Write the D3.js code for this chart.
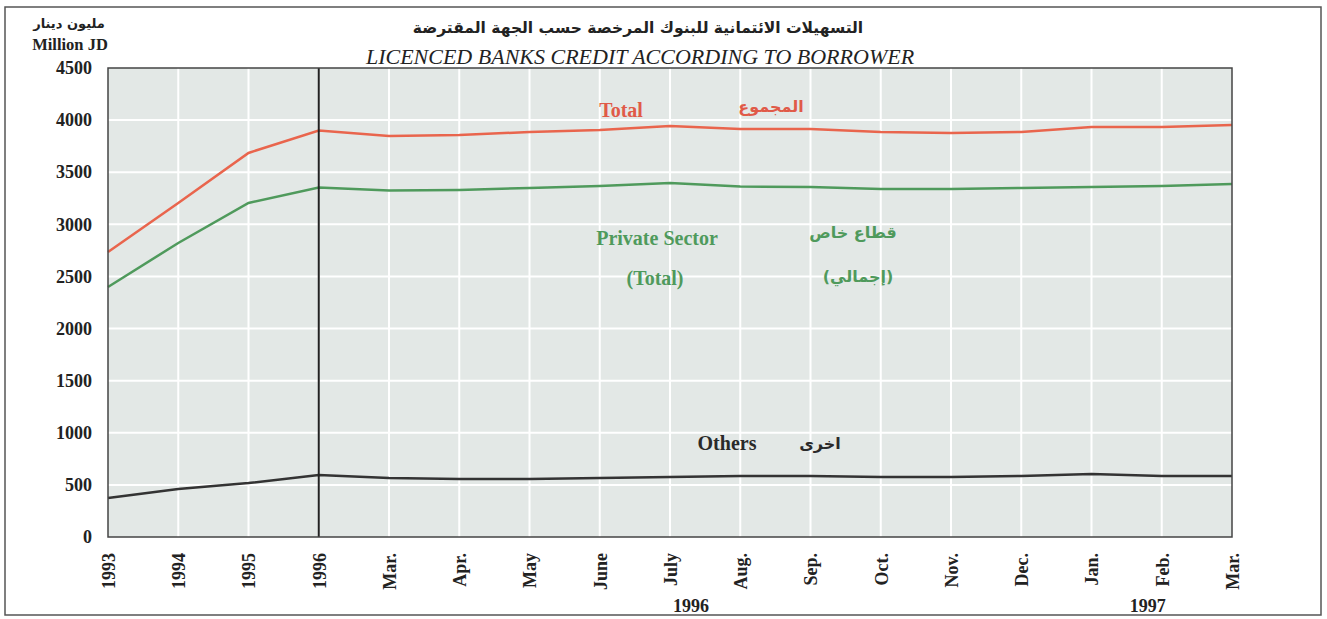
<!DOCTYPE html>
<html>
<head>
<meta charset="utf-8">
<script src="https://cdn.jsdelivr.net/npm/d3@7"></script>
<style>
  html, body { margin: 0; padding: 0; background: #ffffff; }
  svg { display: block; }
</style>
</head>
<body>
<svg id="chart" width="1327" height="619"></svg>
<script>
const categories = ["1993","1994","1995","1996","Mar.","Apr.","May","June","July","Aug.","Sep.","Oct.","Nov.","Dec.","Jan.","Feb.","Mar."];
const totalValues   = [2735,3205,3685,3900,3848,3857,3886,3905,3944,3915,3915,3886,3876,3886,3934,3934,3953];
const privateValues = [2399,2821,3205,3353,3325,3330,3349,3368,3397,3363,3358,3339,3339,3349,3358,3368,3387];
const othersValues  = [374,461,518,595,566,557,557,566,576,585,585,576,576,585,604,585,585];
const yTicks = [0,500,1000,1500,2000,2500,3000,3500,4000,4500];
const yearLabels = [{text:"1996", at:8.3}, {text:"1997", at:14.8}];
const dividerCategory = 3;

const svg = d3.select("#chart");
const M = {left:108, right:1232, top:68, bottom:537};
const serif = "'Liberation Serif','Times New Roman',serif";
const arabic = "'DejaVu Sans',sans-serif";

// outer frame
svg.append("rect").attr("x",5).attr("y",7).attr("width",1316).attr("height",608)
  .attr("fill","none").attr("stroke","#555").attr("stroke-width",1.5);

const x = d3.scaleLinear().domain([0, categories.length-1]).range([M.left, M.right]);
const y = d3.scaleLinear().domain([0, 4500]).range([M.bottom, M.top]);

// plot background
svg.append("rect").attr("x",M.left).attr("y",M.top)
  .attr("width",M.right-M.left).attr("height",M.bottom-M.top)
  .attr("fill","#e3e8e6");

// grid
const g = svg.append("g");
g.selectAll("line.h").data(yTicks.slice(1,-1)).join("line")
  .attr("x1",M.left).attr("x2",M.right).attr("y1",d=>y(d)).attr("y2",d=>y(d))
  .attr("stroke","#ffffff").attr("stroke-width",2);
g.selectAll("line.v").data(d3.range(1,categories.length-1)).join("line")
  .attr("x1",d=>x(d)).attr("x2",d=>x(d)).attr("y1",M.top).attr("y2",M.bottom)
  .attr("stroke","#ffffff").attr("stroke-width",2);

// y axis labels
const yAxis = d3.axisLeft(y).tickValues(yTicks).tickFormat(d3.format("d")).tickSize(0).tickPadding(16);
const ya = svg.append("g").attr("transform",`translate(${M.left},0)`).call(yAxis);
ya.select(".domain").remove();
ya.selectAll("text").attr("font-family",serif).attr("font-weight","bold")
  .attr("font-size",18).attr("fill","#222");

// x axis labels
const xAxis = d3.axisBottom(x).tickValues(d3.range(categories.length))
  .tickFormat(i=>categories[i]).tickSize(0);
const xa = svg.append("g").attr("transform",`translate(0,${M.bottom})`).call(xAxis);
xa.select(".domain").remove();
xa.selectAll("text").attr("font-family",serif).attr("font-weight","bold")
  .attr("font-size",18).attr("fill","#222")
  .attr("transform","rotate(-90)").attr("text-anchor","end")
  .attr("x",-16).attr("y",0).attr("dy","0.35em");

// year labels
svg.selectAll("text.year").data(yearLabels).join("text")
  .attr("x",d=>x(d.at)).attr("y",612).attr("text-anchor","middle")
  .attr("font-family",serif).attr("font-weight","bold").attr("font-size",18).attr("fill","#222")
  .text(d=>d.text);

// lines
const line = d3.line().x((d,i)=>x(i)).y(d=>y(d));
svg.append("path").datum(othersValues).attr("d",line)
  .attr("fill","none").attr("stroke","#333").attr("stroke-width",2.5);
svg.append("path").datum(privateValues).attr("d",line)
  .attr("fill","none").attr("stroke","#4f9a5c").attr("stroke-width",2.5);
svg.append("path").datum(totalValues).attr("d",line)
  .attr("fill","none").attr("stroke","#e9654d").attr("stroke-width",2.5);

// divider
svg.append("line").attr("x1",x(dividerCategory)).attr("x2",x(dividerCategory))
  .attr("y1",M.top).attr("y2",M.bottom).attr("stroke","#222").attr("stroke-width",2);

// plot border
svg.append("rect").attr("x",M.left).attr("y",M.top)
  .attr("width",M.right-M.left).attr("height",M.bottom-M.top)
  .attr("fill","none").attr("stroke","#444").attr("stroke-width",1.5);

// titles
svg.append("text").attr("x",638).attr("y",33).attr("text-anchor","middle")
  .attr("font-family",arabic).attr("font-weight","bold").attr("font-size",15.5).attr("fill","#222")
  .attr("direction","rtl")
  .text("التسهيلات الائتمانية للبنوك المرخصة حسب الجهة المقترضة");
svg.append("text").attr("x",640).attr("y",64).attr("text-anchor","middle")
  .attr("font-family",serif).attr("font-style","italic").attr("font-size",22).attr("fill","#222")
  .text("LICENCED BANKS CREDIT ACCORDING TO BORROWER");

svg.append("text").attr("x",69).attr("y",28).attr("text-anchor","middle")
  .attr("font-family",arabic).attr("font-weight","bold").attr("font-size",13).attr("fill","#222")
  .attr("direction","rtl").text("مليون دينار");
svg.append("text").attr("x",70).attr("y",50).attr("text-anchor","middle")
  .attr("font-family",serif).attr("font-weight","bold").attr("font-size",16.5).attr("fill","#222")
  .text("Million JD");

// series labels
const labels = [
  {t:"Total", x:621, y:117, c:"#e05a48", f:serif},
  {t:"المجموع", x:771, y:112, c:"#e05a48", f:arabic},
  {t:"Private Sector", x:657, y:245, c:"#4f9a5c", f:serif},
  {t:"قطاع خاص", x:853, y:238, c:"#4f9a5c", f:arabic},
  {t:"(Total)", x:655, y:285, c:"#4f9a5c", f:serif},
  {t:"(إجمالي)", x:858, y:282, c:"#4f9a5c", f:arabic},
  {t:"Others", x:727, y:450, c:"#2a2a2a", f:serif},
  {t:"اخرى", x:820, y:449, c:"#2a2a2a", f:arabic}
];
svg.selectAll("text.lab").data(labels).join("text")
  .attr("x",d=>d.x).attr("y",d=>d.y).attr("text-anchor","middle")
  .attr("font-family",d=>d.f).attr("font-weight","bold")
  .attr("font-size",d=>d.f===arabic?16:20).attr("fill",d=>d.c)
  .attr("direction",d=>d.f===arabic?"rtl":"ltr")
  .text(d=>d.t);
</script>
</body>
</html>
